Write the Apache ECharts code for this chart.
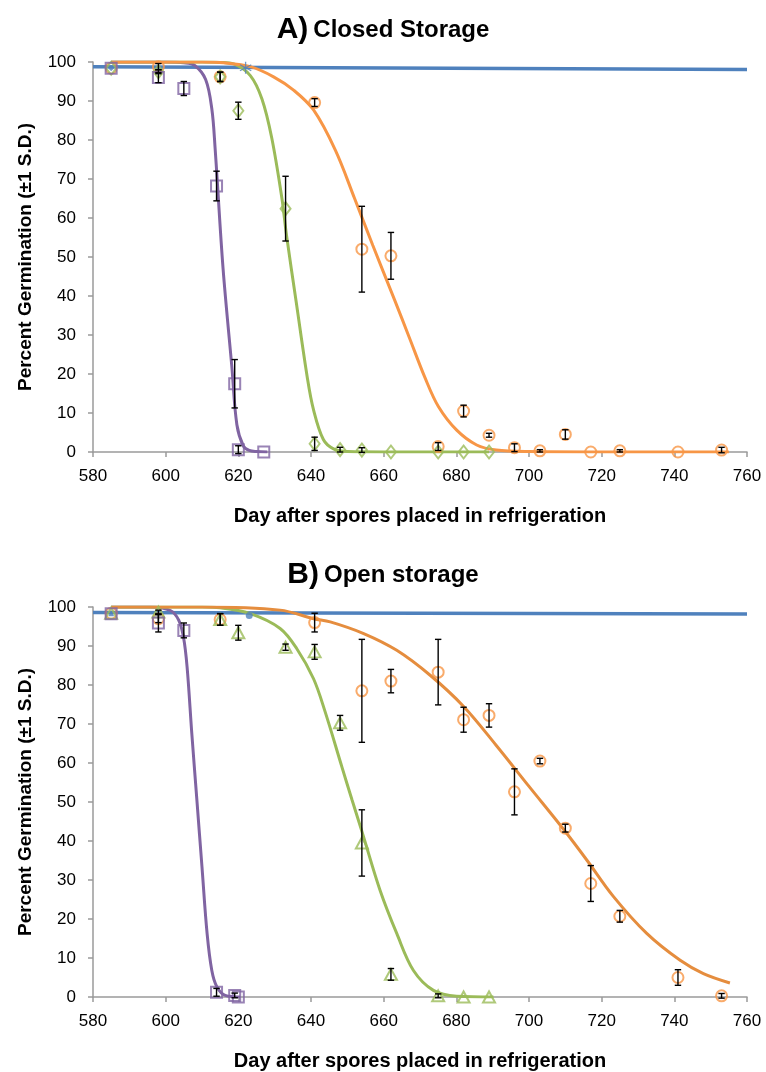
<!DOCTYPE html>
<html>
<head>
<meta charset="utf-8">
<script src="https://cdn.jsdelivr.net/npm/echarts@6/dist/echarts.min.js"></script>
<style>
html,body{margin:0;padding:0;background:#fff;}
#chart{width:766px;height:1072px;}
</style>
</head>
<body>
<div id="chart"></div>
<script>
// ---------- Tick labels / axes ----------
const xTicks = [580, 600, 620, 640, 660, 680, 700, 720, 740, 760];
const yTicks = [0, 10, 20, 30, 40, 50, 60, 70, 80, 90, 100];
const titleA = ['A)', 'Closed Storage'];
const titleB = ['B)', 'Open storage'];
const xTitle = 'Day after spores placed in refrigeration';
const yTitle = 'Percent Germination (\u00b11 S.D.)';

// ---------- Panel A: Closed storage ----------
const purpleA_day = [585, 598, 605, 614, 619, 620, 627];
const purpleA_pct = [98.4, 96.0, 93.2, 68.2, 17.5, 0.6, 0];
const purpleA_sd  = [0, 1.3, 1.8, 3.8, 6.2, 1.0, 0];

const greenA_day = [585, 598, 615, 620, 633, 641, 648, 654, 662, 675, 682, 689];
const greenA_pct = [98.4, 97.5, 96.2, 87.5, 62.4, 2.1, 0.6, 0.5, 0, 0, 0, 0];
const greenA_sd  = [0, 0.5, 1.2, 2.2, 8.3, 1.7, 0.6, 0.6, 0, 0, 0, 0];

const orangeA_day = [585, 598, 615, 641, 654, 662, 675, 682, 689, 696, 703, 710, 717, 725, 741, 753];
const orangeA_pct = [98.4, 98.8, 96.2, 89.6, 52.0, 50.3, 1.4, 10.5, 4.3, 1.1, 0.3, 4.5, 0, 0.3, 0, 0.5];
const orangeA_sd  = [0, 0.8, 1.2, 1.0, 11.0, 6.0, 1.0, 1.5, 0.5, 1.0, 0.3, 1.2, 0, 0.3, 0, 0.7];

const blueA_day = [585, 622];
const blueA_pct = [98.4, 98.5];

const controlA_line = [[580, 98.8], [760, 98.1]];

const purpleA_fit = [[585,100],[600,100],[605,99.8],[608,99.1],[611,95.5],[612.7,88],[613.6,78],[615.8,47],[618.2,22],[619.6,7],[621.4,1.5],[623,0.4],[625,0.1],[628,0]];
const greenA_fit = [[585,100],[610,100],[615,99.9],[618.7,99.5],[623.3,96.5],[626.5,90.5],[629.2,80.5],[632,65],[633.2,56],[636,38],[639,19],[640.7,10.8],[643.4,3.2],[646.2,0.8],[650,0.1],[660,0],[689,0]];
const orangeA_fit = [[585,100],[610,100],[616,99.8],[623.3,98.8],[629.7,96.2],[635.2,92.8],[640.7,87.7],[646.7,77.4],[652,65],[657,53],[663,39],[667,29.5],[671.4,19],[675.1,11.6],[680.1,5.6],[685.6,1.8],[691,0.5],[700,0.1],[720,0],[755,0]];

// ---------- Panel B: Open storage ----------
const purpleB_day = [585, 598, 605, 614, 619, 620];
const purpleB_pct = [98.3, 95.9, 94.0, 1.2, 0.4, 0];
const purpleB_sd  = [0, 2.3, 1.9, 1.0, 0.6, 0];

const greenB_day = [585, 598, 615, 620, 633, 641, 648, 654, 662, 675, 682, 689];
const greenB_pct = [98.4, 98.7, 96.8, 93.4, 89.7, 88.5, 70.3, 39.5, 5.8, 0.3, 0, 0];
const greenB_sd  = [0, 0.5, 1.5, 1.9, 0.8, 1.9, 1.9, 8.5, 1.5, 0.5, 0, 0];

const orangeB_day = [585, 598, 615, 641, 654, 662, 675, 682, 689, 696, 703, 710, 717, 725, 741, 753];
const orangeB_pct = [98.4, 97.0, 96.8, 96.0, 78.5, 81.0, 83.3, 71.1, 72.2, 52.6, 60.5, 43.3, 29.1, 20.7, 5.0, 0.3];
const orangeB_sd  = [0, 1.0, 1.5, 2.4, 13.2, 3.0, 8.4, 3.2, 3.0, 5.9, 0.7, 1.0, 4.6, 1.5, 2.0, 0.6];

const blueB_day = [585, 623];
const blueB_pct = [98.4, 97.8];

const controlB_line = [[580, 98.6], [760, 98.2]];

const purpleB_fit = [[585,100],[595.7,100],[601.3,99.1],[603.6,96.6],[604.9,92.3],[605.9,84.6],[607.2,67.5],[608.6,50.4],[610,33.3],[611.4,16.3],[612.7,6.8],[614.1,2.6],[616.4,0.4],[620.5,0]];
const greenB_fit = [[585,100],[610,100],[615,99.8],[623.3,98.3],[631.5,94.5],[636.1,89.3],[640.7,81.6],[643.9,73.1],[648.5,59],[651.3,50.5],[654.2,41.9],[659,27.4],[663.6,16.3],[668.2,6.8],[673.7,1.7],[680.1,0.2],[690.2,0]];
const orangeB_fit = [[585,100],[610,100],[631.5,99.2],[640.7,97],[645.3,96.2],[654.5,93.2],[663.6,88.9],[672.8,82.5],[682,74.5],[691,64.5],[700,54],[709.5,43],[716,35],[723.2,25.8],[732.4,16.3],[741.6,9.4],[748,6],[755.3,3.6]];

// ---------- Styling ----------
const C_BLUE = '#4F81BD', C_PURPLE = '#8064A2', C_GREEN = '#9BBB59', C_ORANGE = '#F79646', C_ORANGE_DK = '#E58D3E';
const FONT = "'Liberation Sans', Arial, Helvetica, sans-serif";
const ASTERISK = 'path://M4.5,0L5.5,0L5.5,10L4.5,10Z M0.95,2.07L9.55,7.07L9.05,7.93L0.45,2.93Z M0.45,7.07L9.05,2.07L9.55,2.93L0.95,7.93Z';

function pairs(xs, ys){ return xs.map((x,i)=>[x, ys[i]]); }
function errs(xs, ys, sds){
  const out = [];
  xs.forEach((x,i)=>{ if (sds[i] > 0) out.push([x, ys[i]-sds[i], ys[i]+sds[i]]); });
  return out;
}
function renderErr(params, api){
  const x = api.value(0), lo = api.value(1), hi = api.value(2);
  const p1 = api.coord([x, lo]), p2 = api.coord([x, hi]);
  const w = 3.2;
  const st = {stroke:'#000', lineWidth:1.4};
  return {type:'group', children:[
    {type:'line', shape:{x1:p1[0],y1:p1[1],x2:p2[0],y2:p2[1]}, style:st},
    {type:'line', shape:{x1:p1[0]-w,y1:p1[1],x2:p1[0]+w,y2:p1[1]}, style:st},
    {type:'line', shape:{x1:p2[0]-w,y1:p2[1],x2:p2[0]+w,y2:p2[1]}, style:st}
  ]};
}
function lineSeries(idx, data, color, width){
  return {type:'line', xAxisIndex:idx, yAxisIndex:idx, data:data, smooth:0.35,
    showSymbol:false, symbol:'none', lineStyle:{color:color, width:width||3}, z:2, silent:true};
}
function markerSeries(idx, data, symbol, size, color){
  return {type:'scatter', xAxisIndex:idx, yAxisIndex:idx, data:data, symbol:symbol, symbolSize:size,
    itemStyle:{color:'rgba(0,0,0,0)', borderColor:color, borderWidth:2}, z:3, silent:true};
}
function errSeries(idx, data){
  return {type:'custom', xAxisIndex:idx, yAxisIndex:idx, coordinateSystem:'cartesian2d',
    data:data, renderItem:renderErr, encode:{x:0, y:[1,2]}, z:4, silent:true};
}
function xAxisCfg(idx){
  return {gridIndex:idx, type:'value', min:xTicks[0], max:xTicks[xTicks.length-1], interval:20,
    axisLine:{show:true, onZero:false, lineStyle:{color:'#9a9a9a', width:1.5}},
    axisTick:{show:true, inside:false, length:5, lineStyle:{color:'#9a9a9a', width:1.5}},
    axisLabel:{color:'#000', fontSize:17, fontFamily:FONT, margin:16},
    splitLine:{show:false},
    name:xTitle, nameLocation:'middle', nameGap:54,
    nameTextStyle:{color:'#000', fontSize:20, fontWeight:'bold', fontFamily:FONT}};
}
function yAxisCfg(idx){
  return {gridIndex:idx, type:'value', min:yTicks[0], max:yTicks[yTicks.length-1], interval:10,
    axisLine:{show:true, lineStyle:{color:'#9a9a9a', width:1.5}},
    axisTick:{show:true, inside:false, length:5, lineStyle:{color:'#9a9a9a', width:1.5}},
    axisLabel:{color:'#000', fontSize:17, fontFamily:FONT, margin:17},
    splitLine:{show:false},
    name:yTitle, nameLocation:'middle', nameGap:58,
    nameTextStyle:{color:'#000', fontSize:19, fontWeight:'bold', fontFamily:FONT}};
}
function titleCfg(parts, top){
  return {text:'{a|' + parts[0] + '} {b|' + parts[1] + '}', left:'center', top:top,
    textStyle:{rich:{
      a:{fontSize:30, fontWeight:'bold', fontFamily:FONT, color:'#000'},
      b:{fontSize:24, fontWeight:'bold', fontFamily:FONT, color:'#000'}
    }}};
}

const chart = echarts.init(document.getElementById('chart'), null, {renderer:'canvas'});
chart.setOption({
  animation:false,
  backgroundColor:'#fff',
  title:[ Object.assign(titleCfg(titleA, 15), {padding:[0,0,0,30]}), Object.assign(titleCfg(titleB, 560), {padding:[0,0,0,30]}) ],
  grid:[
    {left:93, right:19, top:62, height:390},
    {left:93, right:19, top:607, height:390}
  ],
  xAxis:[xAxisCfg(0), xAxisCfg(1)],
  yAxis:[yAxisCfg(0), yAxisCfg(1)],
  series:[
    // Panel A
    lineSeries(0, controlA_line, C_BLUE, 3.5),
    lineSeries(0, purpleA_fit, C_PURPLE, 3),
    lineSeries(0, greenA_fit, C_GREEN, 3),
    lineSeries(0, orangeA_fit, C_ORANGE, 3),
    {type:'scatter', xAxisIndex:0, yAxisIndex:0, data:[pairs(blueA_day, blueA_pct)[0]], symbol:'diamond', symbolSize:6, itemStyle:{color:C_BLUE}, z:3},
    {type:'scatter', xAxisIndex:0, yAxisIndex:0, data:[pairs(blueA_day, blueA_pct)[1]], symbol:ASTERISK, symbolSize:12, itemStyle:{color:C_BLUE}, z:3},
    markerSeries(0, pairs(orangeA_day, orangeA_pct), 'circle', 11, C_ORANGE),
    markerSeries(0, pairs(greenA_day, greenA_pct), 'diamond', [10,13], C_GREEN),
    markerSeries(0, pairs(purpleA_day, purpleA_pct), 'rect', 11, C_PURPLE),
    errSeries(0, errs(purpleA_day, purpleA_pct, purpleA_sd)),
    errSeries(0, errs(greenA_day, greenA_pct, greenA_sd)),
    errSeries(0, errs(orangeA_day, orangeA_pct, orangeA_sd)),
    // Panel B
    lineSeries(1, controlB_line, C_BLUE, 3.5),
    lineSeries(1, purpleB_fit, C_PURPLE, 3),
    lineSeries(1, greenB_fit, C_GREEN, 3),
    lineSeries(1, orangeB_fit, C_ORANGE_DK, 3),
    {type:'scatter', xAxisIndex:1, yAxisIndex:1, data:[pairs(blueB_day, blueB_pct)[0]], symbol:'triangle', symbolSize:6, itemStyle:{color:C_BLUE}, z:3},
    {type:'scatter', xAxisIndex:1, yAxisIndex:1, data:[pairs(blueB_day, blueB_pct)[1]], symbol:'circle', symbolSize:7, itemStyle:{color:C_BLUE}, z:3},
    markerSeries(1, pairs(orangeB_day, orangeB_pct), 'circle', 11, C_ORANGE),
    markerSeries(1, pairs(greenB_day, greenB_pct), 'triangle', [12,11], C_GREEN),
    markerSeries(1, pairs(purpleB_day, purpleB_pct), 'rect', 11, C_PURPLE),
    errSeries(1, errs(purpleB_day, purpleB_pct, purpleB_sd)),
    errSeries(1, errs(greenB_day, greenB_pct, greenB_sd)),
    errSeries(1, errs(orangeB_day, orangeB_pct, orangeB_sd))
  ]
});
</script>
</body>
</html>
